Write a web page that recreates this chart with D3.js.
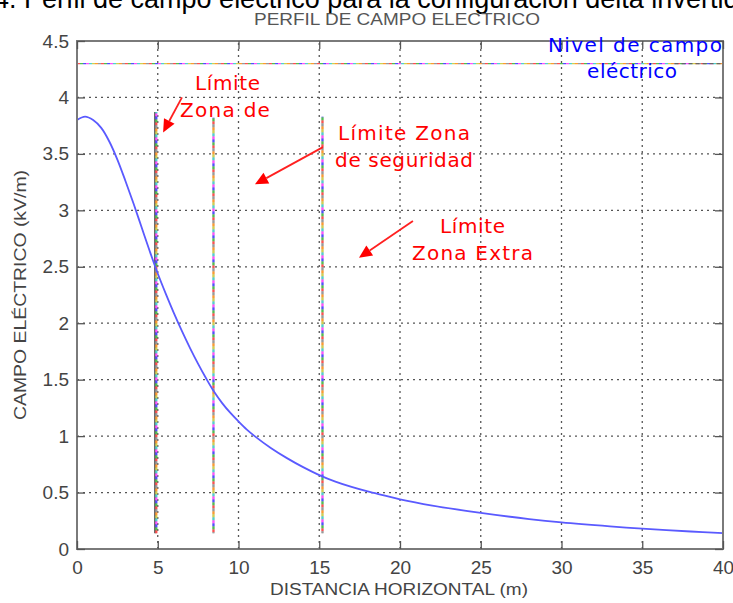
<!DOCTYPE html>
<html><head><meta charset="utf-8">
<script src="https://cdn.jsdelivr.net/npm/d3@7"></script>
<style>body{margin:0;background:#fff;} svg{display:block;}</style>
</head><body>
<svg id="c" width="733" height="603"></svg>
<script>
// ---- data ----
const distance = [0,0.5,1,1.5,2,2.5,3,3.5,4,4.5,5,5.5,6,6.5,7,7.5,8,8.5,9,9.5,10,10.5,11,12,13,14,15,16,17,18,19,20,22,25,28,30,33,35,38,40];
const field    = [3.80,3.83,3.80,3.73,3.61,3.45,3.26,3.06,2.85,2.64,2.44,2.26,2.09,1.93,1.78,1.64,1.51,1.39,1.29,1.205,1.13,1.06,1.00,0.895,0.805,0.725,0.655,0.597,0.55,0.51,0.475,0.44,0.385,0.32,0.265,0.235,0.20,0.18,0.155,0.14];
const xTicks = [0,5,10,15,20,25,30,35,40];
const yTicks = [0,0.5,1,1.5,2,2.5,3,3.5,4,4.5];
const markerX = [4.85, 8.45, 15.2];
const markerTop = [3.87, 3.82, 3.83];
const markerBottom = 0.14;
const levelY = 4.3;
const annotations = [
  {text:"Límite", x:9.32, y:4.065, len:65},
  {text:"Zona de", x:9.16, y:3.826, len:90},
  {text:"Límite Zona", x:20.25, y:3.62, len:132},
  {text:"de seguridad", x:20.25, y:3.38, len:138},
  {text:"Límite", x:24.49, y:2.80, len:65},
  {text:"Zona Extra", x:24.49, y:2.56, len:121}
];
const arrows = [
  {x1:6.5, y1:4.0, x2:5.33, y2:3.69},
  {x1:15.23, y1:3.56, x2:11.02, y2:3.23},
  {x1:20.8, y1:2.905, x2:17.46, y2:2.58}
];
const levelLabel = [
  {text:"Nivel de campo", x:34.55, y:4.40, len:174},
  {text:"eléctrico", x:34.37, y:4.17, len:90}
];

// ---- layout ----
const svg = d3.select("#c");
const x = d3.scaleLinear().domain([0,40]).range([77,723]);
const y = d3.scaleLinear().domain([0,4.5]).range([549,41]);
const narrow = "'Liberation Sans Narrow','Arial Narrow','Liberation Sans',sans-serif";

// top clipped caption
svg.append("text").attr("x",-6).attr("y",8)
  .attr("font-family","'Liberation Sans',Arial,sans-serif").attr("font-size",27)
  .attr("fill","#000").text("4. Perfil de campo eléctrico para la configuración delta invertida");

// title
svg.append("text").attr("x",397).attr("y",25).attr("text-anchor","middle")
  .attr("font-family",narrow).attr("font-size",16).attr("fill","#555")
  .attr("textLength",286).attr("lengthAdjust","spacingAndGlyphs")
  .text("PERFIL DE CAMPO ELECTRICO");

// grid
const g = svg.append("g");
g.selectAll("line.vg").data(xTicks.slice(1,-1)).join("line")
  .attr("x1",d=>x(d)).attr("x2",d=>x(d)).attr("y1",y(0)).attr("y2",y(4.5))
  .attr("stroke","#555").attr("stroke-width",1.3).attr("stroke-dasharray","2,4");
g.selectAll("line.hg").data(yTicks.slice(1,-1)).join("line")
  .attr("y1",d=>y(d)).attr("y2",d=>y(d)).attr("x1",x(0)).attr("x2",x(40))
  .attr("stroke","#555").attr("stroke-width",1.3).attr("stroke-dasharray","2,4");

// level line (multicolour dotted)
const dotColors = ["#ff5050","#50c050","#5050ff","#ff50ff","#50d0d0","#d0d050","#ff9a30","#999999"];
dotColors.forEach((c,i)=>{
  svg.append("line").attr("x1",x(0)).attr("x2",x(40)).attr("y1",y(levelY)).attr("y2",y(levelY))
    .attr("stroke",c).attr("stroke-width",1.3)
    .attr("stroke-dasharray",`3,${3*dotColors.length-3}`).attr("stroke-dashoffset",-i*3);
});
svg.append("line").attr("x1",x(37)).attr("x2",x(40)).attr("y1",y(levelY)).attr("y2",y(levelY))
  .attr("stroke","#666").attr("stroke-width",1.4).attr("stroke-dasharray","4,3");

// marker vertical lines
markerX.forEach((mx,j)=>{
  const base = j===0 ? "#555" : "#bbb";
  svg.append("line").attr("x1",x(mx)).attr("x2",x(mx)).attr("y1",y(markerBottom)).attr("y2",y(markerTop[j]))
    .attr("stroke",base).attr("stroke-width",j===0?2.4:1.6);
  dotColors.forEach((c,i)=>{
    svg.append("line").attr("x1",x(mx)+(j===0?1:0)).attr("x2",x(mx)+(j===0?1:0))
      .attr("y1",y(markerBottom)).attr("y2",y(markerTop[j]))
      .attr("stroke",c).attr("stroke-width",2.2)
      .attr("stroke-dasharray",`3,${3*dotColors.length-3}`).attr("stroke-dashoffset",-i*3-j);
  });
});

// curve
svg.append("path").datum(distance.map((d,i)=>[d,field[i]]))
  .attr("d",d3.line().x(d=>x(d[0])).y(d=>y(d[1])).curve(d3.curveCatmullRom))
  .attr("fill","none").attr("stroke","#5a5aff").attr("stroke-width",1.8);

// frame
svg.append("rect").attr("x",x(0)).attr("y",y(4.5)).attr("width",x(40)-x(0)).attr("height",y(0)-y(4.5))
  .attr("fill","none").attr("stroke","#7a7a7a").attr("stroke-width",2);

// axes (ticks inside)
const xa = svg.append("g").attr("transform",`translate(0,${y(0)})`)
  .call(d3.axisBottom(x).tickValues(xTicks).tickSize(-8).tickPadding(12).tickFormat(d3.format("d")));
const xt = svg.append("g").attr("transform",`translate(0,${y(4.5)})`)
  .call(d3.axisTop(x).tickValues(xTicks).tickSize(-8).tickFormat(""));
const ya = svg.append("g").attr("transform",`translate(${x(0)},0)`)
  .call(d3.axisLeft(y).tickValues(yTicks).tickSize(-8).tickPadding(8).tickFormat(d=>String(d)));
const yr = svg.append("g").attr("transform",`translate(${x(40)},0)`)
  .call(d3.axisRight(y).tickValues(yTicks).tickSize(-8).tickFormat(""));
[xa,xt,ya,yr].forEach(a=>{
  a.select(".domain").remove();
  a.selectAll(".tick line").attr("stroke","#555").attr("stroke-width",1.3);
  a.selectAll("text").attr("font-family",narrow).attr("font-size",19).attr("fill","#444");
});

// axis labels
svg.append("text").attr("x",399).attr("y",595).attr("text-anchor","middle")
  .attr("font-family",narrow).attr("font-size",16).attr("fill","#444")
  .attr("textLength",258).attr("lengthAdjust","spacingAndGlyphs")
  .text("DISTANCIA HORIZONTAL (m)");
svg.append("text").attr("transform","translate(26,295) rotate(-90)").attr("text-anchor","middle")
  .attr("font-family",narrow).attr("font-size",16).attr("fill","#444")
  .attr("textLength",250).attr("lengthAdjust","spacingAndGlyphs")
  .text("CAMPO ELÉCTRICO (kV/m)");

// annotations
const annoFont = "'DejaVu Sans',Verdana,sans-serif";
svg.selectAll("text.anno").data(annotations).join("text").attr("class","anno")
  .attr("x",d=>x(d.x)).attr("y",d=>y(d.y)).attr("text-anchor","middle")
  .attr("font-family",annoFont).attr("font-size",20).attr("fill","#ff0000")
  .attr("textLength",d=>d.len).attr("lengthAdjust","spacing").text(d=>d.text);
svg.selectAll("text.lvl").data(levelLabel).join("text").attr("class","lvl")
  .attr("x",d=>x(d.x)).attr("y",d=>y(d.y)).attr("text-anchor","middle")
  .attr("font-family",annoFont).attr("font-size",20).attr("fill","#0000ff")
  .attr("textLength",d=>d.len).attr("lengthAdjust","spacing").text(d=>d.text);

// arrows
arrows.forEach(a=>{
  const x1=x(a.x1),y1=y(a.y1),x2=x(a.x2),y2=y(a.y2);
  const ang=Math.atan2(y2-y1,x2-x1), L=13, W=6;
  const bx=x2-L*Math.cos(ang), by=y2-L*Math.sin(ang);
  svg.append("line").attr("x1",x1).attr("y1",y1).attr("x2",bx).attr("y2",by)
    .attr("stroke","#ff2020").attr("stroke-width",1.8);
  const px=-Math.sin(ang)*W, py=Math.cos(ang)*W;
  svg.append("path").attr("d",`M${x2},${y2}L${bx+px},${by+py}L${bx-px},${by-py}Z`).attr("fill","#ff0000");
});
</script>
</body></html>
